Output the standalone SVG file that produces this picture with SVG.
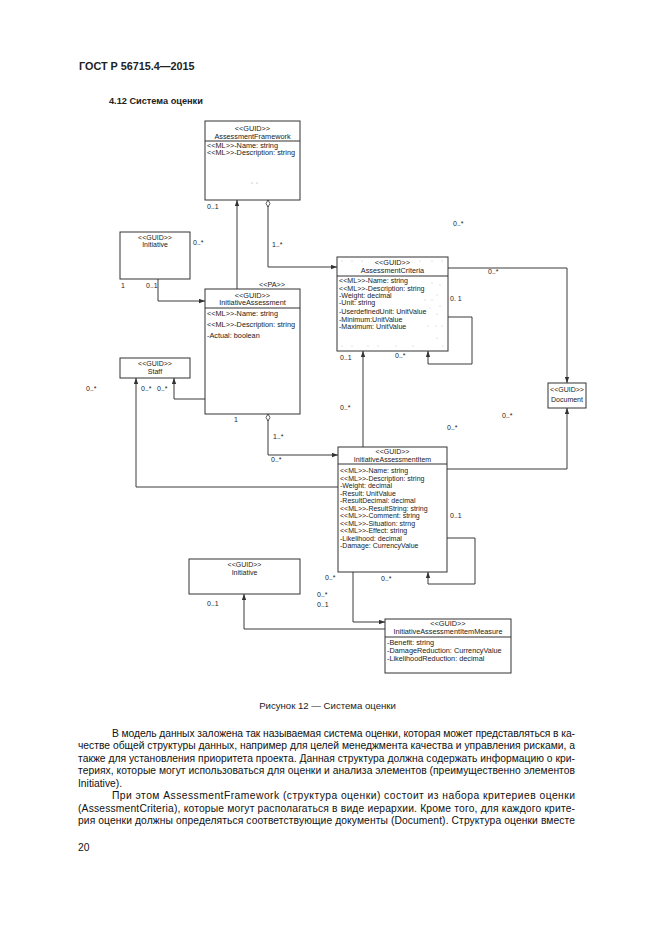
<svg xmlns="http://www.w3.org/2000/svg" width="661" height="935" viewBox="0 0 661 935">
<style>
  .bg{fill:#ffffff}
  .box{fill:#ffffff;stroke:#333;stroke-width:1}
  .sep{stroke:#333;stroke-width:1}
  .t{font-family:"Liberation Sans",Arial,sans-serif;fill:#222}
  .s7{font-size:7px}
  .s75{font-size:7.3px}
  .c{text-anchor:middle}
  .lbl{font-family:"Liberation Sans",Arial,sans-serif;font-size:7px;fill:#222}
  .conn path{fill:none;stroke:#3a3a3a;stroke-width:1}
  .body{font-family:"Liberation Sans",Arial,sans-serif;font-size:10.3px;fill:#111}
  .dot{fill:#888}
</style>
<defs>
  <marker id="arr" markerUnits="userSpaceOnUse" markerWidth="7" markerHeight="5" refX="6" refY="2.5" orient="auto">
    <path d="M0,0.3 L6,2.5 L0,4.7 z" fill="#333"/>
  </marker>
  <marker id="dia" markerUnits="userSpaceOnUse" markerWidth="9" markerHeight="6" refX="0.5" refY="2.5" orient="auto">
    <path d="M0.5,2.5 L4,0.5 L7.5,2.5 L4,4.5 z" fill="#fff" stroke="#333" stroke-width="0.8"/>
  </marker>
</defs>
<rect class="bg" x="0" y="0" width="661" height="935"/>

<text class="t" x="79" y="70" font-size="10.8" font-weight="bold">ГОСТ Р 56715.4—2015</text>
<text class="t" x="109" y="104" font-size="9.2" font-weight="bold">4.12 Система оценки</text>

<g class="conn">
  <path d="M237,289 V200" marker-end="url(#arr)"/>
  <path d="M268,200 V267 H337" marker-start="url(#dia)" marker-end="url(#arr)"/>
  <path d="M158,279 V301 H205" marker-end="url(#arr)"/>
  <path d="M205,399 H174 V378" marker-end="url(#arr)"/>
  <path d="M338,487 H136 V378" marker-end="url(#arr)"/>
  <path d="M268,414 V455 H338" marker-start="url(#dia)" marker-end="url(#arr)"/>
  <path d="M363,447 V351" marker-end="url(#arr)"/>
  <path d="M448,317 H472 V364 H428 V351" marker-end="url(#arr)"/>
  <path d="M448,268 H567 V383" marker-end="url(#arr)"/>
  <path d="M447,469 H567 V408" marker-end="url(#arr)"/>
  <path d="M447,538 H475 V584 H428 V572" marker-end="url(#arr)"/>
  <path d="M353,572 V622 H385" marker-end="url(#arr)"/>
  <path d="M385,629 H244 V594" marker-end="url(#arr)"/>
</g>

<g id="AssessmentFramework">
  <rect class="box" x="205" y="121" width="95" height="79"/>
  <line class="sep" x1="205" y1="141" x2="300" y2="141"/>
  <text class="t s75 c" x="252.5" y="131.3">&lt;&lt;GUID&gt;&gt;</text>
  <text class="t s75 c" x="252.5" y="138.8">AssessmentFramework</text>
  <text class="t s75" x="207" y="148">&lt;&lt;ML&gt;&gt;-Name: string</text>
  <text class="t s75" x="207" y="155.2">&lt;&lt;ML&gt;&gt;-Description: string</text>
  <circle class="dot" cx="252" cy="183" r="0.5"/>
  <circle class="dot" cx="257" cy="183" r="0.5"/>
</g>

<g id="InitiativeTop">
  <rect class="box" x="120" y="232" width="70" height="47"/>
  <text class="t s7 c" x="155" y="239.5">&lt;&lt;GUID&gt;&gt;</text>
  <text class="t s7 c" x="155" y="246.5">Initiative</text>
</g>

<g id="InitiativeAssessment">
  <rect class="box" x="205" y="289" width="95" height="125"/>
  <line class="sep" x1="205" y1="308" x2="300" y2="308"/>
  <text class="t s75 c" x="272" y="286.8">&lt;&lt;PA&gt;&gt;</text>
  <text class="t s75 c" x="252.5" y="297.5">&lt;&lt;GUID&gt;&gt;</text>
  <text class="t s75 c" x="252.5" y="304.8">InitiativeAssessment</text>
  <text class="t s75" x="207" y="315.5">&lt;&lt;ML&gt;&gt;-Name: string</text>
  <text class="t s75" x="207" y="326.5">&lt;&lt;ML&gt;&gt;-Description: string</text>
  <text class="t s75" x="207" y="337.5">-Actual: boolean</text>
</g>

<g id="Staff">
  <rect class="box" x="120" y="358" width="70" height="20"/>
  <text class="t s7 c" x="155" y="366.3">&lt;&lt;GUID&gt;&gt;</text>
  <text class="t s7 c" x="155" y="373.5">Staff</text>
</g>

<g id="AssessmentCriteria">
  <rect class="box" x="337" y="257" width="111" height="94"/>
  <line class="sep" x1="337" y1="276" x2="448" y2="276"/>
  <text class="t s75 c" x="392.5" y="265.3">&lt;&lt;GUID&gt;&gt;</text>
  <text class="t s75 c" x="392.5" y="272.8">AssessmentCriteria</text>
  <text class="t" font-size="7.1" x="339" y="283.3">&lt;&lt;ML&gt;&gt;-Name: string</text>
  <text class="t" font-size="7.1" x="339" y="290.6">&lt;&lt;ML&gt;&gt;-Description: string</text>
  <text class="t" font-size="7.1" x="339" y="297.9">-Weight: decimal</text>
  <text class="t" font-size="7.1" x="339" y="305.2">-Unit: string</text>
  <text class="t" font-size="7.1" x="339" y="313.5">-UserdefinedUnit: UnitValue</text>
  <text class="t" font-size="7.1" x="339" y="321.5">-Minimum:UnitValue</text>
  <text class="t" font-size="7.1" x="339" y="328.9">-Maximum: UnitValue</text>
  <g class="dot">
    <circle cx="342" cy="261" r="0.45"/><circle cx="352" cy="261" r="0.45"/><circle cx="362" cy="261" r="0.45"/><circle cx="420" cy="261" r="0.45"/><circle cx="432" cy="261" r="0.45"/><circle cx="442" cy="261" r="0.45"/>
    <circle cx="432" cy="283" r="0.45"/><circle cx="440" cy="285" r="0.45"/><circle cx="437" cy="295" r="0.45"/><circle cx="425" cy="300" r="0.45"/><circle cx="432" cy="300" r="0.45"/><circle cx="440" cy="306" r="0.45"/>
    <circle cx="430" cy="308" r="0.45"/><circle cx="437" cy="314" r="0.45"/><circle cx="428" cy="326" r="0.45"/><circle cx="436" cy="326" r="0.45"/><circle cx="442" cy="326" r="0.45"/><circle cx="437" cy="338" r="0.45"/>
    <circle cx="342" cy="346" r="0.45"/><circle cx="352" cy="346" r="0.45"/><circle cx="368" cy="346" r="0.45"/><circle cx="378" cy="346" r="0.45"/><circle cx="396" cy="346" r="0.45"/><circle cx="413" cy="346" r="0.45"/><circle cx="443" cy="346" r="0.45"/>
  </g>
</g>

<g id="Document">
  <rect class="box" x="548" y="383" width="38" height="25"/>
  <text class="t s7 c" x="567" y="391.5">&lt;&lt;GUID&gt;&gt;</text>
  <text class="t s7 c" x="567" y="402">Document</text>
</g>

<g id="InitiativeAssessmentItem">
  <rect class="box" x="338" y="447" width="109" height="125"/>
  <line class="sep" x1="338" y1="464" x2="447" y2="464"/>
  <text class="t s7 c" x="392.5" y="453.5">&lt;&lt;GUID&gt;&gt;</text>
  <text class="t s7 c" x="392.5" y="461.5">InitiativeAssessmentItem</text>
  <text class="t s7" x="340" y="473.2">&lt;&lt;ML&gt;&gt;-Name: string</text>
  <text class="t s7" x="340" y="480.7">&lt;&lt;ML&gt;&gt;-Description: string</text>
  <text class="t s7" x="340" y="488.2">-Weight: decimal</text>
  <text class="t s7" x="340" y="495.7">-Result: UnitValue</text>
  <text class="t s7" x="340" y="503.2">-ResultDecimal: decimal</text>
  <text class="t s7" x="340" y="510.7">&lt;&lt;ML&gt;&gt;-ResultString: string</text>
  <text class="t s7" x="340" y="518.2">&lt;&lt;ML&gt;&gt;-Comment: string</text>
  <text class="t s7" x="340" y="525.7">&lt;&lt;ML&gt;&gt;-Situation: strng</text>
  <text class="t s7" x="340" y="533.2">&lt;&lt;ML&gt;&gt;-Effect: string</text>
  <text class="t s7" x="340" y="540.7">-Likelihood: decimal</text>
  <text class="t s7" x="340" y="548.2">-Damage: CurrencyValue</text>
</g>

<g id="InitiativeBottom">
  <rect class="box" x="189" y="559" width="111" height="35"/>
  <text class="t s7 c" x="244.5" y="567">&lt;&lt;GUID&gt;&gt;</text>
  <text class="t s7 c" x="244.5" y="574.8">Initiative</text>
</g>

<g id="InitiativeAssessmentItemMeasure">
  <rect class="box" x="385" y="619" width="126" height="54"/>
  <line class="sep" x1="385" y1="637" x2="511" y2="637"/>
  <text class="t s75 c" x="448" y="626">&lt;&lt;GUID&gt;&gt;</text>
  <text class="t s75 c" x="448" y="634.3">InitiativeAssessmentItemMeasure</text>
  <text class="t s75" x="387" y="644.6">-Benefit: string</text>
  <text class="t s75" x="387" y="652.6">-DamageReduction: CurrencyValue</text>
  <text class="t s75" x="387" y="660.6">-LikelihoodReduction: decimal</text>
</g>

<g id="labels">
  <text class="lbl" x="207" y="208.5">0..1</text>
  <text class="lbl" x="272" y="247">1..*</text>
  <text class="lbl" x="193" y="244.5">0..*</text>
  <text class="lbl" x="121" y="288">1</text>
  <text class="lbl" x="146" y="288">0..1</text>
  <text class="lbl" x="86" y="391">0..*</text>
  <text class="lbl" x="141" y="391">0..*</text>
  <text class="lbl" x="157" y="391">0..*</text>
  <text class="lbl" x="234" y="421.5">1</text>
  <text class="lbl" x="273" y="438.5">1..*</text>
  <text class="lbl" x="271" y="462">0..*</text>
  <text class="lbl" x="453" y="225.5">0..*</text>
  <text class="lbl" x="488" y="274">0..*</text>
  <text class="lbl" x="450" y="301">0. 1</text>
  <text class="lbl" x="340" y="360">0..1</text>
  <text class="lbl" x="395" y="358">0..*</text>
  <text class="lbl" x="340" y="409.5">0..*</text>
  <text class="lbl" x="502" y="417.5">0..*</text>
  <text class="lbl" x="447" y="429.5">0..*</text>
  <text class="lbl" x="450" y="517.5">0..1</text>
  <text class="lbl" x="325" y="579.5">0..*</text>
  <text class="lbl" x="381" y="580.5">0..*</text>
  <text class="lbl" x="317" y="597">0..*</text>
  <text class="lbl" x="317" y="607">0..1</text>
  <text class="lbl" x="207" y="605.5">0..1</text>
</g>

<text class="t c" x="327.5" y="709" font-size="9.6">Рисунок 12 — Система оценки</text>

<g id="bodytext">
  <text class="body" x="112" y="736.5" textLength="463" lengthAdjust="spacing">В модель данных заложена так называемая система оценки, которая может представляться в ка-</text>
  <text class="body" x="78" y="749" textLength="497" lengthAdjust="spacing">честве общей структуры данных, например для целей менеджмента качества и управления рисками, а</text>
  <text class="body" x="78" y="761.5" textLength="497" lengthAdjust="spacing">также для установления приоритета проекта. Данная структура должна содержать информацию о кри-</text>
  <text class="body" x="78" y="774" textLength="497" lengthAdjust="spacing">териях, которые могут использоваться для оценки и анализа элементов (преимущественно элементов</text>
  <text class="body" x="78" y="786.5">Initiative).</text>
  <text class="body" x="112" y="799" textLength="463" lengthAdjust="spacing">При этом AssessmentFramework (структура оценки) состоит из набора критериев оценки</text>
  <text class="body" x="78" y="811.5" textLength="497" lengthAdjust="spacing">(AssessmentCriteria), которые могут располагаться в виде иерархии. Кроме того, для каждого крите-</text>
  <text class="body" x="78" y="824" textLength="497" lengthAdjust="spacing">рия оценки должны определяться соответствующие документы (Document). Структура оценки вместе</text>
  <text class="body" x="78" y="851">20</text>
</g>
</svg>
